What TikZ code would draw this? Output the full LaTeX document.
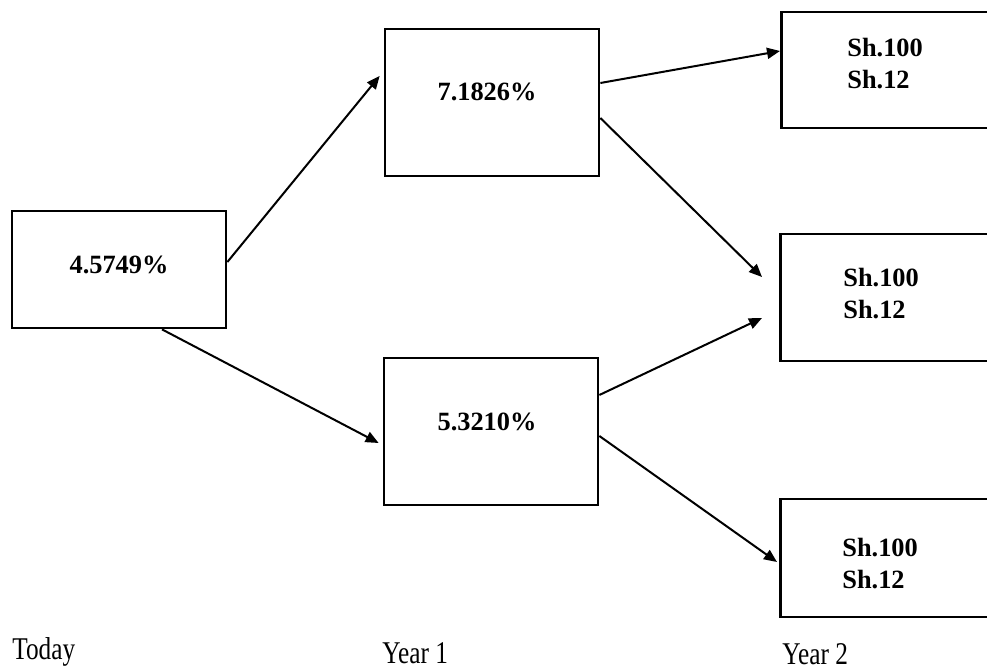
\documentclass[tikz,border=0pt]{standalone}
\usepackage{fontspec}
\setmainfont{Liberation Serif}
\usetikzlibrary{arrows.meta}
\tikzset{
  >={Triangle[length=2.6mm, width=2.2mm]},
  box/.style={rectangle, draw=black, line width=0.55mm, minimum width=42.8mm, inner sep=0pt},
  val/.style={font=\fontsize{15}{18}\selectfont\bfseries, inner sep=0pt},
  pay/.style={font=\fontsize{15}{18.7}\selectfont\bfseries, align=left, anchor=west, inner sep=0pt},
  yr/.style={font=\fontsize{18}{22}\selectfont, anchor=west, inner sep=0pt},
  flow/.style={->, line width=0.4mm, draw=black},
}
\newcommand{\narrow}[1]{\scalebox{0.8}[1]{#1}}

\begin{document}
\begin{tikzpicture}[x=0.2mm, y=-0.2mm]
      \useasboundingbox (0,0) rectangle (987,671);
      \clip (0,0) rectangle (987,671);
      \node[box, minimum height=23.4mm] (today) at (119,269.5) {};
      \node[box, minimum height=29.4mm] (y1up) at (492,102.5) {};
      \node[box, minimum height=29.4mm] (y1dn) at (491,431.5) {};
      \node[box, minimum height=23.2mm, anchor=west] (r1) at (780,70) {};
      \node[box, minimum height=25.4mm, anchor=west] (r2) at (779,297.5) {};
      \node[box, minimum height=23.6mm, anchor=west] (r3) at (779,558) {};
      \node[val] (vtoday) at (119,265) {4.5749\%};
      \node[val] (vup) at (487,92) {7.1826\%};
      \node[val] (vdn) at (487,422) {5.3210\%};
      \node[pay] (p1) at (847,63.5) {Sh.100\\Sh.12};
      \node[pay] (p2) at (843,293.5) {Sh.100\\Sh.12};
      \node[pay] (p3) at (842,563.5) {Sh.100\\Sh.12};
      \node[yr] (ltoday) at (12,652) {\narrow{Today}};
      \node[yr] (lyear1) at (382,653) {\narrow{Year 1}};
      \node[yr] (lyear2) at (782,654) {\narrow{Year 2}};
      \draw[flow] ([yshift=1.5mm]today.east) -- ([xshift=-0.8mm, yshift=5.3mm]y1up.west);
      \draw[flow] ([xshift=8.6mm]today.south) -- ([xshift=-0.8mm, yshift=-2.3mm]y1dn.west);
      \draw[flow] ([yshift=3.9mm]y1up.east) -- ([yshift=3.8mm]r1.west);
      \draw[flow] ([yshift=-3.1mm]y1up.east) -- ([xshift=-3.4mm, yshift=4.1mm]r2.west);
      \draw[flow] ([yshift=7.3mm]y1dn.east) -- ([xshift=-3.4mm, yshift=-4.1mm]r2.west);
      \draw[flow] ([yshift=-0.9mm]y1dn.east) -- ([xshift=-0.4mm, yshift=-0.8mm]r3.west);
    \end{tikzpicture}
\end{document}
